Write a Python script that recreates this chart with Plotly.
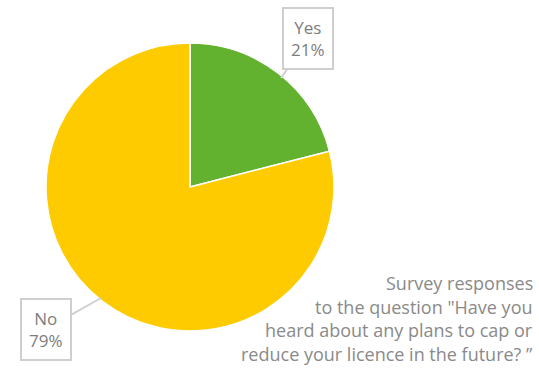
import plotly.graph_objects as go

labels = ["Yes", "No"]
values = [21, 79]
colors = ["#62b22f", "#fdcb00"]
caption_lines = [
    "Survey responses",
    "to the question \"Have you",
    "heard about any plans to cap or",
    "reduce your licence in the future? \u201d",
]

W, H = 539, 368


def px(x):
    return x / W


def py(y):
    return 1 - y / H


fig = go.Figure(
    go.Pie(
        labels=labels,
        values=values,
        sort=False,
        direction="clockwise",
        rotation=0,
        marker=dict(colors=colors, line=dict(color="white", width=1.5)),
        textinfo="none",
        hoverinfo="label+percent",
        domain=dict(x=[px(46), px(334)], y=[py(331), py(43)]),
        showlegend=False,
    )
)

label_font = dict(family="Open Sans, sans-serif", size=17, color="#7d7d7d")
callout = dict(
    xref="paper", yref="paper", showarrow=True, arrowhead=0, arrowwidth=2,
    arrowcolor="#cfcfcf", bordercolor="#cfcfcf", borderwidth=2, borderpad=7,
    bgcolor="white", font=label_font, align="center",
)

total = sum(values)
pcts = [round(v * 100 / total) for v in values]

fig.add_annotation(
    text=f"{labels[0]}<br>{pcts[0]}%", x=px(281), y=py(78), ax=27, ay=-39, **callout
)
fig.add_annotation(
    text=f"{labels[1]}<br>{pcts[1]}%", x=px(101), y=py(298), ax=-55, ay=31, **callout
)

# caption, one line per annotation for tighter line spacing
caption_font = dict(family="Open Sans, sans-serif", size=18, color="#8a8a8a")
for i, line in enumerate(caption_lines):
    fig.add_annotation(
        text=line, xref="paper", yref="paper",
        x=px(535), y=py(283 + 23.5 * i),
        xanchor="right", yanchor="middle", align="right", showarrow=False,
        font=caption_font,
    )

fig.update_layout(
    width=W, height=H, margin=dict(l=0, r=0, t=0, b=0),
    paper_bgcolor="white", plot_bgcolor="white",
)

fig.write_html("out.html")
